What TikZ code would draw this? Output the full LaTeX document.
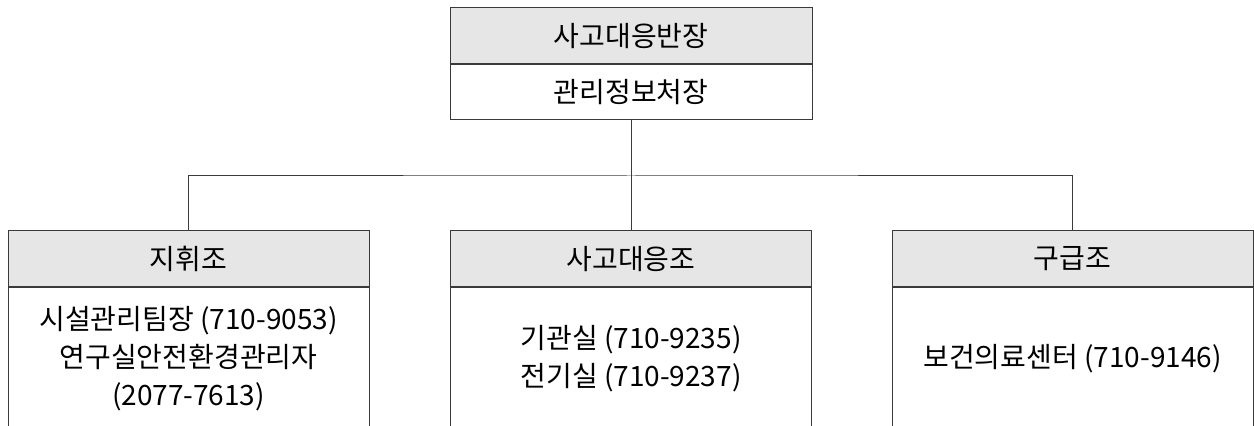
\documentclass[tikz,border=0pt]{standalone}
\usepackage{fontspec}
\setmainfont{Noto Sans CJK KR}
\usetikzlibrary{positioning}
\definecolor{headgray}{HTML}{E6E6E6}
\definecolor{linegray}{HTML}{3A3A3A}
\begin{document}
\begin{tikzpicture}[x=0.5pt, y=-0.5pt, line width=0.5pt, draw=linegray,
  head/.style={draw=linegray, fill=headgray, minimum width=181pt, minimum height=28pt, inner sep=0pt, font=\fontsize{14pt}{19pt}\selectfont},
  row/.style={draw=linegray, fill=white, minimum width=181pt, minimum height=27.5pt, inner sep=0pt, font=\fontsize{14pt}{19pt}\selectfont},
  team/.style={head, minimum width=180.5pt},
  duty/.style={draw=linegray, minimum width=180.5pt, minimum height=70.5pt, inner sep=0pt, align=center, font=\fontsize{14pt}{19pt}\selectfont}]
\useasboundingbox (0,0) rectangle (1254,426);
\clip (0,0) rectangle (1254,426);

\node (ban) at (631,36) [head] {사고대응반장};
\node (chief) [row, below=0pt of ban] {관리정보처장};

\node (cmd) at (188.5,259) [team] {지휘조};
\node (resp) at (631,259) [team] {사고대응조};
\node (aid) at (1072.5,259) [team] {구급조};

\node (cmdbody) [duty, below=0pt of cmd] {시설관리팀장 (710-9053)\\연구실안전환경관리자\\(2077-7613)};
\node (respbody) [duty, below=0pt of resp] {기관실 (710-9235)\\전기실 (710-9237)};
\node (aidbody) [duty, below=0pt of aid] {보건의료센터 (710-9146)};

\coordinate (bus) at (631,176);
\draw (chief) -- (resp);
\draw (cmd) |- (bus) -| (aid);
\end{tikzpicture}
\end{document}
